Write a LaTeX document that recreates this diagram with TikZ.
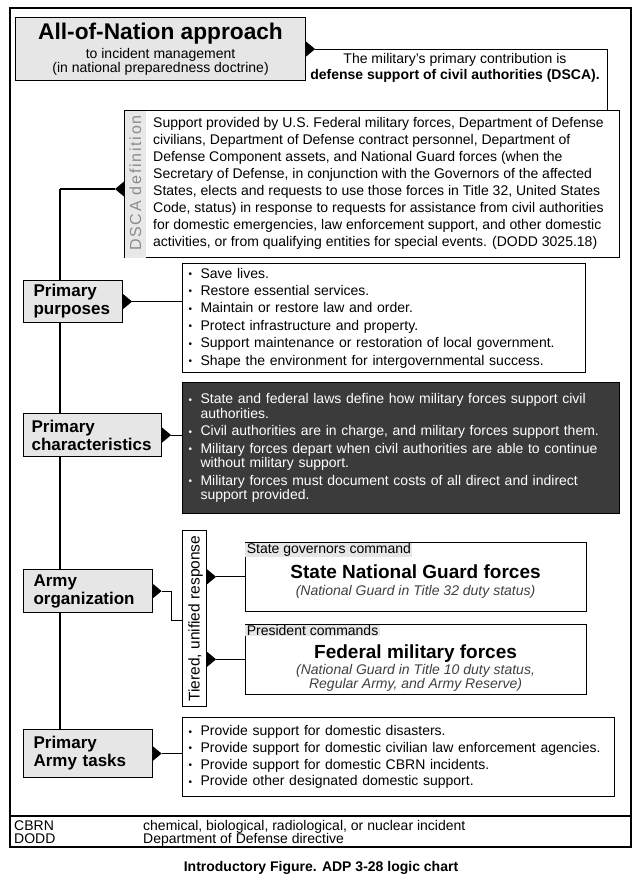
\documentclass[tikz,border=0pt]{standalone}
\usepackage{fontspec}
\setmainfont{Liberation Sans}
\newfontfamily\trackfont[LetterSpace=11]{Liberation Sans}
\usetikzlibrary{calc}
\definecolor{lbg}{HTML}{E6E6E6}
\definecolor{hbg}{HTML}{E6E6E6}
\definecolor{dkfill}{HTML}{3B3B3B}
\definecolor{stripgray}{HTML}{E8E8E8}
\definecolor{striptext}{HTML}{8C8C8C}
\definecolor{ital}{HTML}{404040}
\newcommand\bu{\makebox[12pt][l]{\raisebox{0.6pt}{\fontsize{10}{10}\selectfont\textbullet}}}
\newcommand\ci{\hspace*{12pt}}
\newcommand\tipR[1]{\fill (#1) ++(0,-7.5) -- ++(9,7.5) -- ++(-9,7.5) -- cycle;}
\newcommand\tipL[1]{\fill (#1) ++(0,-7.5) -- ++(-9,7.5) -- ++(9,7.5) -- cycle;}
\tikzset{
  conn/.style={line width=1.1pt},
  plain/.style={draw, line width=1.1pt, fill=white, anchor=north west, inner sep=0pt},
  lbl/.style={draw, line width=1.1pt, fill=lbg, anchor=north west, inner ysep=0pt, inner xsep=10pt, align=left, font=\fontsize{17}{18}\selectfont\bfseries},
  blist/.style={plain, inner xsep=6pt, align=left, font=\fontsize{14}{17.4}\selectfont},
  txt/.style={inner sep=0pt, font=\fontsize{14}{14}\selectfont},
}
\begin{document}
\begin{tikzpicture}[x=1pt, y=-1pt]
\useasboundingbox (0,0) rectangle (638,878);
\fill[white] (0,0) rectangle (638,878);

% ---- boxes
\node[plain, fill=lbg, minimum width=290, minimum height=63, align=center, font=\fontsize{14}{13}\selectfont] (title) at (15,17)
  {{\fontsize{22.7}{13}\selectfont\bfseries All-of-Nation approach}\\[3pt] to incident management\\ (in national preparedness doctrine)};

\node[txt, align=center, font=\fontsize{14}{16}\selectfont] (contrib) at (455,68.3)
  {The military’s primary contribution is\\ \textbf{defense support of civil authorities (DSCA).}};

\node[plain, minimum width=495, minimum height=147] (dsca) at (124,110) {};
\fill[stripgray] ($(dsca.north west)+(0.55,0.55)$) rectangle ($(dsca.south west)+(22,-0.55)$);
\node[txt, rotate=90, font=\trackfont\fontsize{16}{16}\selectfont, text=striptext] (dscalbl) at ($(dsca.west)+(11.5,-1)$) {DSCA definition};
\node[txt, anchor=west, align=left, font=\fontsize{14}{17}\selectfont] (dscatxt) at ($(dsca.west)+(29,-1)$)
  {Support provided by U.S. Federal military forces, Department of Defense\\
   civilians, Department of Defense contract personnel, Department of\\
   Defense Component assets, and National Guard forces (when the\\
   Secretary of Defense, in conjunction with the Governors of the affected\\
   States, elects and requests to use those forces in Title 32, United States\\
   Code, status) in response to requests for assistance from civil authorities\\
   for domestic emergencies, law enforcement support, and other domestic\\
   activities, or from qualifying entities for special events. (DODD 3025.18)};

\coordinate (dtip) at ($(dsca.north west)+(0,79)$);
\coordinate (spt) at (60,189);
\coordinate (cj) at ($(dsca.north east)+(-13,0)$);

\node[lbl, minimum width=99, minimum height=42, text width=79] (pp) at (23,280) {Primary\\purposes};
\node[blist, minimum width=403, minimum height=109, text width=391] (bl1) at (182,263)
  {\bu Save lives.\\
   \bu Restore essential services.\\
   \bu Maintain or restore law and order.\\
   \bu Protect infrastructure and property.\\
   \bu Support maintenance or restoration of local government.\\
   \bu Shape the environment for intergovernmental success.};

\node[lbl, inner xsep=8pt, minimum width=138, minimum height=43, text width=122] (pc) at (23,413) {Primary\\\mbox{characteristics}};
\node[blist, fill=dkfill, text=white, font=\fontsize{14}{14.5}\selectfont, minimum width=437, minimum height=131, text width=425] (dark) at (182,382)
  {\bu State and federal laws define how military forces support civil\\
   \ci authorities.\\[3pt]
   \bu Civil authorities are in charge, and military forces support them.\\[3pt]
   \bu Military forces depart when civil authorities are able to continue\\
   \ci without military support.\\[3pt]
   \bu Military forces must document costs of all direct and indirect\\
   \ci support provided.};

\node[lbl, minimum width=128.5, minimum height=43, text width=108.5] (ao) at (23,569) {Army\\organization};
\node[plain, minimum width=24, minimum height=176] (tier) at (182,530) {};
\node[txt, rotate=90, font=\fontsize{15.5}{16}\selectfont] (tiertxt) at ($(tier.center)+(1,0)$) {Tiered, unified response};
\coordinate (tj) at ($(tier.south west)+(0,-87)$);

\node[plain, minimum width=341, minimum height=69.5] (st) at (244.5,541.5) {};
\node[txt, anchor=north west, fill=hbg, inner xsep=1.5pt, inner ysep=0.3pt] (sth) at ($(st.north west)+(0.6,1.2)$) {State governors command};
\node[txt, font=\fontsize{19}{20}\selectfont\bfseries] (stt) at ($(st.north)+(0,30)$) {State National Guard forces};
\node[txt, font=\fontsize{14}{14}\selectfont\itshape, text=ital] (sts) at ($(st.north)+(0,50)$) {(National Guard in Title 32 duty status)};

\node[plain, minimum width=341, minimum height=69.5] (fed) at (244.5,624) {};
\node[txt, anchor=north west, fill=hbg, inner xsep=1.5pt, inner ysep=0.3pt] (fedh) at ($(fed.north west)+(0.6,1.2)$) {President commands};
\node[txt, font=\fontsize{19}{20}\selectfont\bfseries] (fedt) at ($(fed.north)+(0,30)$) {Federal military forces};
\node[txt, align=center, font=\fontsize{14}{13}\selectfont\itshape, text=ital] (feds) at ($(fed.north)+(0,54)$) {(National Guard in Title 10 duty status,\\ Regular Army, and Army Reserve)};

\coordinate (t1) at (tier.east |- st.west);
\coordinate (t2) at (tier.east |- fed.west);

\node[lbl, minimum width=128.5, minimum height=48, text width=108.5] (tasks) at (23,729) {Primary\\Army tasks};
\node[blist, font=\fontsize{14}{16.7}\selectfont, minimum width=432, minimum height=79, text width=420] (tb) at (182,717)
  {\bu Provide support for domestic disasters.\\
   \bu Provide support for domestic civilian law enforcement agencies.\\
   \bu Provide support for domestic CBRN incidents.\\
   \bu Provide other designated domestic support.};

% ---- connectors
\tipR{title.east}
\draw[conn] ($(title.east)+(9,0)$) -| (cj);
\tipL{dtip}
\draw[conn] (spt) -- ($(dtip)+(-9,0)$);
\draw[conn] (spt) -- (pp.north -| spt);
\draw[conn] (pp.south -| spt) -- (pc.north -| spt);
\draw[conn] (pc.south -| spt) -- (ao.north -| spt);
\draw[conn] (ao.south -| spt) -- (tasks.north -| spt);

\tipR{pp.east}
\draw[conn] ($(pp.east)+(9,0)$) -- (pp.east -| bl1.west);
\tipR{pc.east}
\draw[conn] ($(pc.east)+(9,0)$) -- (pc.east -| dark.west);
\tipR{ao.east}
\draw[conn] ($(ao.east)+(9,0)$) -- ++(9.5,0) |- (tj);
\tipR{t1}
\draw[conn] ($(t1)+(9,0)$) -- (st.west);
\tipR{t2}
\draw[conn] ($(t2)+(9,0)$) -- (fed.west);
\tipR{tasks.east}
\draw[conn] ($(tasks.east)+(9,0)$) -- (tasks.east -| tb.west);

% ---- frame and legend
\draw[line width=1.6pt] (10,8) rectangle (631,847);
\draw[line width=1.1pt] (10,816) -- (631,816);
\node[txt, anchor=base west] (lgc) at (14,830) {CBRN};
\node[txt, anchor=base west] (lgcd) at (143,830) {chemical, biological, radiological, or nuclear incident};
\node[txt, anchor=base west] (lgd) at (14,843) {DODD};
\node[txt, anchor=base west] (lgdd) at (143,843) {Department of Defense directive};

\node[txt, anchor=base, font=\fontsize{14}{14}\selectfont\bfseries] (cap) at (321,871.5) {Introductory Figure. ADP 3-28 logic chart};
\end{tikzpicture}
\end{document}
